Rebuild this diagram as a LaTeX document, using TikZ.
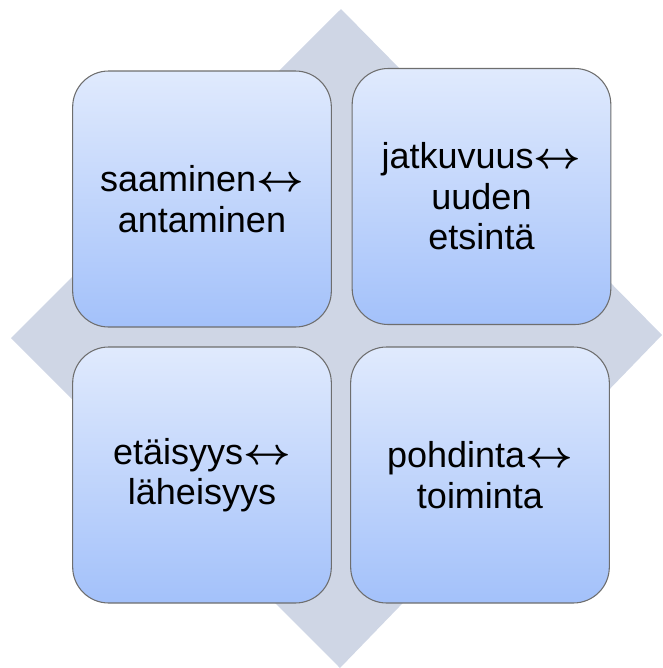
\documentclass[tikz,border=0pt]{standalone}
\usepackage{graphicx}
\usepackage{fontspec}
\setmainfont{Liberation Sans}
\definecolor{rautaB}{HTML}{CFD6E5}
\definecolor{ylaB}{HTML}{E0EAFD}
\definecolor{alaB}{HTML}{A3C1FA}
\definecolor{reunaB}{HTML}{6E6E6E}
\newcommand{\kaksinuoli}{\scalebox{1.25}[1.12]{$\boldsymbol{\leftrightarrow}$}}
\usepackage{amsmath,amssymb}

\begin{document}
\begin{tikzpicture}[x=0.75pt, y=-0.75pt, line join=round,
  ruutu/.style={draw=reunaB, line width=0.8pt, rounded corners=27pt,
    top color=ylaB, bottom color=alaB, minimum width=194pt, minimum height=192pt,
    align=center, inner sep=0pt, font=\fontsize{27}{30.4}\selectfont}]
\useasboundingbox (0,0) rectangle (663,668);
% 背景菱形
\fill[rautaB] (341,9) -- (662,335) -- (340,668) -- (11,338) -- cycle;
% 四个圆角方块
\node[ruutu] (saaminen) at (202,199) {saaminen\kaksinuoli\\antaminen};
\node[ruutu] (jatkuvuus) at (481.5,196.5) {jatkuvuus\kaksinuoli\\uuden\\etsintä};
\node[ruutu] (etaisyys) at (202,475) {etäisyys\kaksinuoli\\läheisyys};
\node[ruutu] (pohdinta) at (480,475) {pohdinta\kaksinuoli\\toiminta};
\end{tikzpicture}
\end{document}
